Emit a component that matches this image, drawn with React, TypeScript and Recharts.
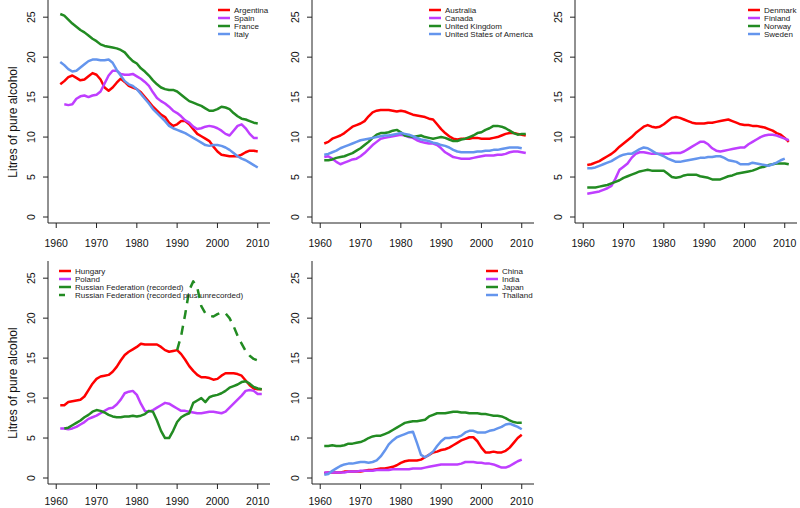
import { LineChart, Line, XAxis, YAxis, Legend } from 'recharts';

// years covered by the source data
const years = [
  1961, 1962, 1963, 1964, 1965, 1966, 1967, 1968, 1969, 1970,
  1971, 1972, 1973, 1974, 1975, 1976, 1977, 1978, 1979, 1980,
  1981, 1982, 1983, 1984, 1985, 1986, 1987, 1988, 1989, 1990,
  1991, 1992, 1993, 1994, 1995, 1996, 1997, 1998, 1999, 2000,
  2001, 2002, 2003, 2004, 2005, 2006, 2007, 2008, 2009, 2010, 2011,
];

const xTicks = [1960, 1970, 1980, 1990, 2000, 2010];
const yTicks = [0, 5, 10, 15, 20, 25];

// litres of pure alcohol per capita
const argentina = [
  16.6, 17.0, 17.5, 17.7, 17.4, 17.1, 17.2, 17.6, 18.0, 17.8,
  17.2, 16.2, 15.8, 16.2, 16.8, 17.3, 16.9, 16.4, 16.2, 16.0,
  15.6, 15.0, 14.4, 13.8, 13.3, 12.8, 12.5, 11.8, 11.4, 11.6,
  12.0, 12.0, 11.6, 11.0, 10.4, 10.1, 9.8, 9.5, 8.8, 8.2,
  7.8, 7.7, 7.6, 7.6, 7.6, 7.8, 8.1, 8.3, 8.3, 8.2,
];
const spain = [ // from 1962
  14.1, 14.0, 14.1, 14.8, 15.1, 15.2, 15.0, 15.2, 15.3,
  15.7, 16.7, 17.7, 18.3, 18.3, 17.9, 17.8, 17.8, 17.9, 17.6,
  17.3, 16.9, 16.4, 15.6, 14.9, 14.5, 14.2, 13.8, 13.3, 13.0,
  12.6, 12.1, 11.8, 11.3, 11.0, 11.1, 11.3, 11.4, 11.3, 11.1,
  10.8, 10.4, 10.2, 10.8, 11.4, 11.6, 11.1, 10.4, 9.9, 9.9,
];
const france = [
  25.4, 25.2, 24.7, 24.2, 23.8, 23.4, 23.1, 22.7, 22.3, 22.0,
  21.6, 21.4, 21.3, 21.2, 21.1, 20.9, 20.6, 20.0, 19.5, 19.2,
  18.6, 18.2, 17.7, 17.1, 16.6, 16.2, 16.0, 15.9, 15.9, 15.7,
  15.3, 14.9, 14.5, 14.3, 14.1, 13.9, 13.6, 13.3, 13.3, 13.5,
  13.8, 13.7, 13.5, 13.0, 12.6, 12.3, 12.2, 12.0, 11.8, 11.7,
];
const italy = [
  19.4, 19.0, 18.5, 18.2, 18.3, 18.7, 19.1, 19.5, 19.7, 19.7,
  19.6, 19.6, 19.7, 19.3, 18.4, 17.7, 17.0, 16.6, 16.4, 16.0,
  15.4, 14.8, 14.2, 13.5, 13.0, 12.5, 12.0, 11.4, 11.1, 10.9,
  10.7, 10.5, 10.2, 9.9, 9.6, 9.3, 9.0, 8.9, 9.0, 9.0,
  8.9, 8.7, 8.4, 8.0, 7.6, 7.3, 7.1, 6.8, 6.5, 6.2,
];

const australia = [
  9.2, 9.4, 9.8, 10.0, 10.2, 10.5, 10.9, 11.3, 11.5, 11.7,
  12.0, 12.6, 13.1, 13.3, 13.4, 13.4, 13.4, 13.3, 13.2, 13.3,
  13.2, 13.0, 12.8, 12.7, 12.6, 12.5, 12.3, 12.2, 11.6, 11.0,
  10.5, 10.1, 9.8, 9.7, 9.8, 9.8, 9.8, 9.9, 9.9, 9.8,
  9.8, 9.8, 9.9, 10.0, 10.2, 10.4, 10.5, 10.5, 10.4, 10.3, 10.2,
];
const canada = [
  7.5, 7.6, 7.3, 6.9, 6.6, 6.8, 7.0, 7.2, 7.3, 7.6,
  8.0, 8.5, 9.0, 9.4, 9.8, 9.9, 10.0, 10.1, 10.2, 10.3,
  10.2, 10.0, 9.9, 9.6, 9.4, 9.3, 9.2, 9.2, 9.0, 8.6,
  8.1, 7.8, 7.5, 7.4, 7.3, 7.3, 7.3, 7.4, 7.5, 7.6,
  7.7, 7.7, 7.7, 7.8, 7.8, 7.9, 8.1, 8.2, 8.2, 8.1, 8.0,
];
const unitedKingdom = [
  7.1, 7.1, 7.2, 7.4, 7.5, 7.6, 7.8, 8.0, 8.3, 8.6,
  9.0, 9.4, 9.9, 10.3, 10.5, 10.5, 10.6, 10.8, 10.9, 10.6,
  10.2, 10.1, 10.0, 10.1, 10.2, 10.0, 9.9, 9.8, 9.9, 10.0,
  9.9, 9.7, 9.5, 9.5, 9.7, 9.8, 10.0, 10.2, 10.5, 10.6,
  10.9, 11.1, 11.4, 11.4, 11.3, 11.1, 10.8, 10.5, 10.3, 10.4, 10.4,
];
const usa = [
  7.8, 7.9, 8.1, 8.3, 8.6, 8.8, 9.0, 9.2, 9.4, 9.6,
  9.7, 9.8, 9.9, 10.0, 10.1, 10.2, 10.2, 10.3, 10.4, 10.5,
  10.4, 10.3, 10.1, 9.9, 9.7, 9.6, 9.5, 9.3, 9.2, 9.0,
  8.9, 8.7, 8.4, 8.2, 8.1, 8.1, 8.1, 8.1, 8.2, 8.2,
  8.3, 8.3, 8.4, 8.4, 8.5, 8.6, 8.7, 8.7, 8.7, 8.6,
];

const denmark = [
  6.5, 6.6, 6.8, 7.0, 7.3, 7.6, 7.9, 8.3, 8.8, 9.2,
  9.6, 10.0, 10.5, 10.9, 11.3, 11.5, 11.3, 11.2, 11.3, 11.6,
  12.0, 12.4, 12.5, 12.4, 12.2, 12.0, 11.8, 11.7, 11.7, 11.7,
  11.8, 11.8, 11.9, 12.0, 12.1, 12.2, 12.0, 11.8, 11.6, 11.5,
  11.5, 11.4, 11.4, 11.3, 11.2, 11.0, 10.8, 10.5, 10.3, 9.9, 9.4,
];
const finland = [
  2.9, 3.0, 3.1, 3.2, 3.4, 3.6, 3.9, 4.8, 5.9, 6.3,
  6.7, 7.4, 7.9, 8.1, 8.1, 8.0, 7.9, 7.9, 7.9, 7.9,
  7.9, 8.0, 8.0, 8.0, 8.2, 8.5, 8.8, 9.1, 9.4, 9.4,
  9.1, 8.6, 8.3, 8.2, 8.3, 8.4, 8.5, 8.6, 8.7, 8.7,
  9.1, 9.4, 9.7, 10.0, 10.2, 10.3, 10.3, 10.2, 10.0, 9.8, 9.6,
];
const norway = [
  3.7, 3.7, 3.7, 3.8, 3.9, 4.0, 4.2, 4.4, 4.6, 4.9,
  5.1, 5.3, 5.5, 5.7, 5.8, 5.9, 5.8, 5.8, 5.8, 5.8,
  5.4, 5.0, 4.9, 5.0, 5.2, 5.3, 5.3, 5.3, 5.1, 5.0,
  4.9, 4.7, 4.7, 4.7, 4.9, 5.1, 5.2, 5.4, 5.5, 5.6,
  5.7, 5.8, 6.0, 6.2, 6.3, 6.5, 6.6, 6.7, 6.7, 6.7, 6.6,
];
const sweden = [
  6.1, 6.1, 6.2, 6.4, 6.6, 6.8, 7.0, 7.3, 7.6, 7.8,
  7.9, 7.9, 8.2, 8.5, 8.7, 8.6, 8.3, 8.0, 7.8, 7.6,
  7.3, 7.1, 6.9, 6.9, 7.0, 7.1, 7.2, 7.3, 7.4, 7.4,
  7.5, 7.5, 7.6, 7.6, 7.4, 7.1, 7.0, 6.9, 6.6, 6.6,
  6.6, 6.8, 6.7, 6.6, 6.5, 6.4, 6.6, 6.8, 7.1, 7.3,
];

const hungary = [
  9.1, 9.1, 9.5, 9.6, 9.7, 9.8, 10.2, 11.0, 11.8, 12.4,
  12.7, 12.8, 12.9, 13.3, 13.9, 14.7, 15.4, 15.8, 16.1, 16.4,
  16.8, 16.7, 16.7, 16.7, 16.7, 16.4, 16.0, 15.8, 15.9, 16.0,
  15.5, 14.8, 14.0, 13.4, 12.9, 12.6, 12.6, 12.5, 12.3, 12.4,
  12.8, 13.1, 13.1, 13.1, 13.0, 12.8, 12.2, 11.6, 11.2, 11.1, 11.1,
];
const poland = [
  6.2, 6.2, 6.1, 6.2, 6.4, 6.7, 7.0, 7.4, 7.6, 7.8,
  8.1, 8.4, 8.7, 8.8, 9.2, 9.8, 10.6, 10.8, 10.9, 10.4,
  9.3, 8.4, 8.3, 8.5, 8.8, 9.1, 9.4, 9.3, 9.0, 8.7,
  8.4, 8.4, 8.3, 8.2, 8.1, 8.1, 8.2, 8.3, 8.3, 8.2,
  8.1, 8.3, 8.8, 9.3, 9.8, 10.3, 10.9, 11.0, 10.9, 10.5, 10.5,
];
const russiaRecorded = [ // from 1962
  6.2, 6.3, 6.6, 6.9, 7.2, 7.6, 7.9, 8.3, 8.5,
  8.4, 8.2, 7.9, 7.7, 7.6, 7.6, 7.7, 7.7, 7.8, 7.7,
  7.8, 8.0, 8.4, 8.3, 7.2, 5.9, 5.0, 5.0, 5.9, 7.0,
  7.6, 7.9, 8.1, 9.4, 9.7, 10.0, 9.5, 10.1, 10.3, 10.4,
  10.6, 10.9, 11.3, 11.5, 11.7, 12.0, 12.1, 11.8, 11.4, 11.2, 11.1,
];
const russiaTotal = [ // from 1990
  16.0,
  17.8, 20.5, 23.5, 24.6, 23.8, 21.5, 20.6, 20.3, 20.2, 20.5,
  20.7, 20.6, 20.0, 19.0, 17.8, 16.8, 15.9, 15.3, 14.9, 14.7,
];

const china = [
  0.6, 0.7, 0.7, 0.7, 0.7, 0.8, 0.8, 0.8, 0.8, 0.8,
  0.9, 1.0, 1.0, 1.1, 1.2, 1.2, 1.3, 1.4, 1.6, 1.9,
  2.1, 2.2, 2.2, 2.2, 2.3, 2.6, 2.9, 3.2, 3.3, 3.5,
  3.6, 3.8, 4.1, 4.4, 4.7, 4.9, 5.1, 5.1, 4.6, 3.8,
  3.2, 3.2, 3.3, 3.2, 3.2, 3.4, 3.8, 4.4, 5.0, 5.4,
];
const india = [
  0.7, 0.7, 0.7, 0.7, 0.7, 0.7, 0.8, 0.8, 0.8, 0.9,
  0.9, 0.9, 0.9, 1.0, 1.0, 1.0, 1.0, 1.1, 1.1, 1.1,
  1.1, 1.1, 1.2, 1.2, 1.2, 1.3, 1.4, 1.5, 1.6, 1.7,
  1.7, 1.7, 1.7, 1.7, 1.8, 2.0, 2.0, 2.0, 1.9, 1.9,
  1.8, 1.8, 1.7, 1.5, 1.3, 1.3, 1.5, 1.8, 2.1, 2.3,
];
const japan = [
  4.0, 4.0, 4.1, 4.0, 4.0, 4.1, 4.3, 4.3, 4.4, 4.5,
  4.7, 5.0, 5.2, 5.3, 5.3, 5.5, 5.7, 6.0, 6.3, 6.6,
  6.9, 7.0, 7.1, 7.1, 7.2, 7.3, 7.7, 7.9, 8.1, 8.1,
  8.1, 8.2, 8.3, 8.3, 8.2, 8.2, 8.1, 8.1, 8.1, 8.0,
  8.0, 7.9, 7.8, 7.8, 7.7, 7.5, 7.2, 7.0, 6.9, 6.9,
];
const thailand = [
  0.4, 0.5, 0.9, 1.2, 1.5, 1.7, 1.8, 1.8, 1.9, 2.0,
  2.0, 1.9, 2.0, 2.2, 2.7, 3.4, 4.2, 4.7, 5.1, 5.3,
  5.5, 5.7, 5.8, 4.4, 2.9, 2.6, 2.9, 3.3, 4.0, 4.6,
  5.0, 5.0, 5.1, 5.1, 5.3, 5.7, 5.9, 5.9, 5.7, 5.7,
  5.7, 5.9, 6.0, 6.2, 6.4, 6.7, 6.8, 6.6, 6.4, 6.1,
];

const RED = '#ff0000';
const PURPLE = '#bf3eff';
const GREEN = '#228b22';
const BLUE = '#6495ed';
const FRAME = '#222';
const FONT = '"Liberation Sans", Arial, Helvetica, sans-serif';

const X_DOMAIN = [1957.96, 2013.04];
const Y_DOMAIN = [-0.75, 27.15];
const BOX_W = 222;
const BOX_H = 223;
const Y_AXIS_W = 48;

type Series = { key: string; name: string; start: number; values: number[]; color: string; dashed?: boolean };
type Panel = {
  boxLeft: number;
  boxTop: number;
  legendX: number;
  topRight: boolean;
  showTitle: boolean;
  tickMargin: number;
  series: Series[];
};

const panels: Panel[] = [
  {
    boxLeft: 48, boxTop: 0, legendX: 234, topRight: true, showTitle: true, tickMargin: 11.5,
    series: [
      { key: 'arg', name: 'Argentina', start: 1961, values: argentina, color: RED },
      { key: 'esp', name: 'Spain', start: 1962, values: spain, color: PURPLE },
      { key: 'fra', name: 'France', start: 1961, values: france, color: GREEN },
      { key: 'ita', name: 'Italy', start: 1961, values: italy, color: BLUE },
    ],
  },
  {
    boxLeft: 312, boxTop: 0, legendX: 445, topRight: true, showTitle: false, tickMargin: 11.5,
    series: [
      { key: 'aus', name: 'Australia', start: 1961, values: australia, color: RED },
      { key: 'can', name: 'Canada', start: 1961, values: canada, color: PURPLE },
      { key: 'gbr', name: 'United Kingdom', start: 1961, values: unitedKingdom, color: GREEN },
      { key: 'usa', name: 'United States of America', start: 1961, values: usa, color: BLUE },
    ],
  },
  {
    boxLeft: 575, boxTop: 0, legendX: 764, topRight: true, showTitle: false, tickMargin: 11.5,
    series: [
      { key: 'dnk', name: 'Denmark', start: 1961, values: denmark, color: RED },
      { key: 'fin', name: 'Finland', start: 1961, values: finland, color: PURPLE },
      { key: 'nor', name: 'Norway', start: 1961, values: norway, color: GREEN },
      { key: 'swe', name: 'Sweden', start: 1961, values: sweden, color: BLUE },
    ],
  },
  {
    boxLeft: 48, boxTop: 261, legendX: 75, topRight: false, showTitle: true, tickMargin: 8.5,
    series: [
      { key: 'hun', name: 'Hungary', start: 1961, values: hungary, color: RED },
      { key: 'pol', name: 'Poland', start: 1961, values: poland, color: PURPLE },
      { key: 'rus', name: 'Russian Federation (recorded)', start: 1962, values: russiaRecorded, color: GREEN },
      { key: 'rusAll', name: 'Russian Federation (recorded plus unrecorded)', start: 1990, values: russiaTotal, color: GREEN, dashed: true },
    ],
  },
  {
    boxLeft: 312, boxTop: 261, legendX: 502, topRight: true, showTitle: false, tickMargin: 8.5,
    series: [
      { key: 'chn', name: 'China', start: 1961, values: china, color: RED },
      { key: 'ind', name: 'India', start: 1961, values: india, color: PURPLE },
      { key: 'jpn', name: 'Japan', start: 1961, values: japan, color: GREEN },
      { key: 'tha', name: 'Thailand', start: 1961, values: thailand, color: BLUE },
    ],
  },
];

function YTick({ y, payload }: any) {
  const x = Y_AXIS_W - 13;
  return (
    <text x={x} y={y} transform={`rotate(-90, ${x}, ${y})`} textAnchor="middle" fontSize={10.5} fill="#111" fontFamily={FONT}>
      {payload.value}
    </text>
  );
}

function YTitle({ cy }: { cy: number }) {
  return (
    <text x={17} y={cy} transform={`rotate(-90, 17, ${cy})`} textAnchor="middle" fontSize={12} fill="#111" fontFamily={FONT}>
      Litres of pure alcohol
    </text>
  );
}

function PanelLegend({ series, width }: { series: Series[]; width: number }) {
  return (
    <svg width={width} height={40} style={{ display: 'block', overflow: 'visible' }}>
      {series.map((s, i) => (
        <g key={s.key}>
          <line x1={4} x2={16} y1={6 + 8 * i} y2={6 + 8 * i} stroke={s.color} strokeWidth={2.5}
            strokeDasharray={s.dashed ? '6 6' : undefined} />
          <text x={20} y={6 + 8 * i} dominantBaseline="central" fontSize={8} fill="#222" fontFamily={FONT}>
            {s.name}
          </text>
        </g>
      ))}
    </svg>
  );
}

function PanelChart({ panel }: { panel: Panel }) {
  const mt = 2;
  const xh = 26;
  const chartLeft = panel.boxLeft - Y_AXIS_W;
  const chartTop = panel.boxTop - mt;
  const width = Y_AXIS_W + BOX_W + 6;
  const height = mt + BOX_H + xh;

  const data = years.map((year) => {
    const row: Record<string, number | null> = { year };
    panel.series.forEach((s) => {
      const v = s.values[year - s.start];
      row[s.key] = v === undefined ? null : v;
    });
    return row;
  });

  const legendLeft = panel.legendX - 20 - chartLeft;
  const legendWidth = panel.topRight ? panel.boxLeft + BOX_W - (panel.legendX - 20) : 220;
  const frameLine = { stroke: FRAME, strokeWidth: 1 };

  return (
    <div style={{ position: 'absolute', left: chartLeft, top: chartTop }}>
      <LineChart width={width} height={height} data={data} margin={{ top: mt, right: 6, bottom: 0, left: 0 }}>
        <XAxis dataKey="year" type="number" domain={X_DOMAIN} ticks={xTicks} interval={0} allowDataOverflow
          axisLine={frameLine} tickLine={{ stroke: FRAME }} tickSize={5} tickMargin={panel.tickMargin} height={xh}
          tick={{ fontSize: 10.5, fill: '#111', fontFamily: FONT }} />
        {/* top and right edges of the plot frame */}
        <XAxis xAxisId="top" orientation="top" dataKey="year" type="number" domain={X_DOMAIN} allowDataOverflow
          height={0} tick={false} tickLine={false} axisLine={frameLine} />
        <YAxis type="number" domain={Y_DOMAIN} ticks={yTicks} interval={0} allowDataOverflow width={Y_AXIS_W}
          axisLine={frameLine} tickLine={{ stroke: FRAME }} tickSize={5} tick={<YTick />}
          label={panel.showTitle ? <YTitle cy={mt + 122} /> : undefined} />
        <YAxis yAxisId="right" orientation="right" type="number" domain={Y_DOMAIN} allowDataOverflow
          width={0} tick={false} tickLine={false} axisLine={frameLine} />
        {panel.series.map((s) => (
          <Line key={s.key} dataKey={s.key} name={s.name} type="linear" stroke={s.color} strokeWidth={2.5}
            strokeDasharray={s.dashed ? '9 7' : undefined} dot={false} activeDot={false}
            isAnimationActive={false} strokeLinejoin="round" />
        ))}
        <Legend layout="horizontal" verticalAlign="middle" align="center"
          wrapperStyle={{ left: legendLeft, top: panel.boxTop + 4 - chartTop, width: legendWidth, height: 40 }}
          content={() => <PanelLegend series={panel.series} width={legendWidth} />} />
      </LineChart>
    </div>
  );
}

export default function App() {
  return (
    <div style={{ position: 'absolute', left: 0, top: 0, width: 800, height: 508, overflow: 'hidden', background: '#fff', fontFamily: FONT }}>
      {panels.map((p, i) => (
        <PanelChart key={i} panel={p} />
      ))}
    </div>
  );
}
